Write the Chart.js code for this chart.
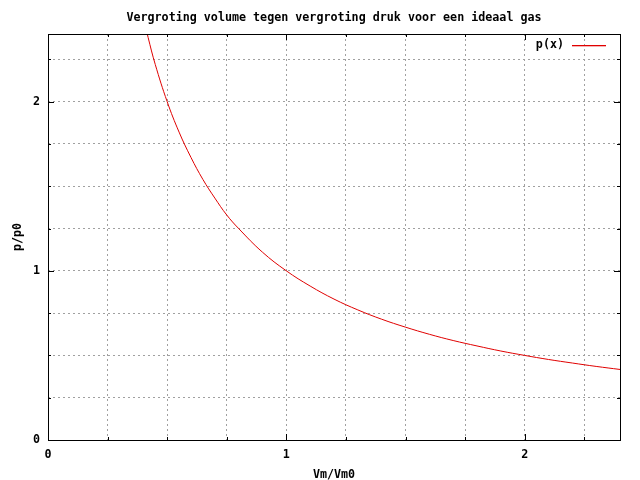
<!DOCTYPE html>
<html>
<head>
<meta charset="utf-8">
<script src="https://cdn.jsdelivr.net/npm/chart.js@4.4.1/dist/chart.umd.min.js"></script>
<style>
  html, body { margin: 0; padding: 0; background: #fff; }
  #wrap { width: 640px; height: 480px; }
</style>
</head>
<body>
<div id="wrap"><canvas id="chart" width="640" height="480"></canvas></div>
<script>
// values (p/p0 against Vm/Vm0)
const volumeRatio = [0.40, 0.42, 0.45, 0.50, 0.55, 0.60, 0.65, 0.70, 0.75, 0.80, 0.90, 1.00, 1.10, 1.20, 1.30, 1.40, 1.50, 1.60, 1.70, 1.80, 1.90, 2.00, 2.10, 2.20, 2.30, 2.40];
const pressureRatio = [2.50, 2.38, 2.22, 2.00, 1.82, 1.67, 1.54, 1.43, 1.33, 1.25, 1.11, 1.00, 0.91, 0.833, 0.769, 0.714, 0.667, 0.625, 0.588, 0.556, 0.526, 0.50, 0.476, 0.455, 0.435, 0.417];
const tickLabels = ["0", "1", "2"];
const seriesName = "p(x)";
const chartTitle = "Vergroting volume tegen vergroting druk voor een ideaal gas";

const FONT = "'DejaVu Sans Mono', 'Liberation Mono', monospace";
const FSIZE = 11.7;
const lineColor = "#e00000";
const gridColor = "#a0a0a0";

const points = volumeRatio.map((x, i) => ({ x: x, y: pressureRatio[i] }));

function labelFor(v) {
  const s = String(Math.round(v));
  return Math.abs(v - Math.round(v)) < 1e-6 && tickLabels.includes(s) ? s : "";
}

function quarterTicks(s) {
  const t = [];
  for (let v = 0; v <= 2.4001; v += 0.25) t.push({ value: v });
  s.ticks = t;
}

// gnuplot-style inward ticks on all four sides, title over the plot, legend entry
const gnuplotExtras = {
  id: "gnuplotExtras",
  afterDatasetsDraw(chart) {
    const { ctx, chartArea: a, scales } = chart;
    ctx.save();
    ctx.setLineDash([]);
    ctx.strokeStyle = "#000";
    ctx.lineWidth = 1;
    ctx.beginPath();
    for (let v = 0; v <= 2.4001; v += 0.25) {
      const major = Math.abs(v - Math.round(v)) < 1e-6;
      const len = major ? 6 : 3;
      const px = Math.round(scales.x.getPixelForValue(v)) + 0.5;
      ctx.moveTo(px, a.bottom); ctx.lineTo(px, a.bottom - len);
      ctx.moveTo(px, a.top); ctx.lineTo(px, a.top + len);
      const py = Math.round(scales.y.getPixelForValue(v)) + 0.5;
      ctx.moveTo(a.left, py); ctx.lineTo(a.left + len, py);
      ctx.moveTo(a.right, py); ctx.lineTo(a.right - len, py);
    }
    ctx.stroke();
    ctx.strokeRect(Math.round(a.left) + 0.5, Math.round(a.top) + 0.5,
      Math.round(a.right - a.left), Math.round(a.bottom - a.top));

    ctx.font = "bold " + FSIZE + "px " + FONT;
    ctx.fillStyle = "#000";
    ctx.textBaseline = "middle";

    // title
    ctx.textAlign = "center";
    ctx.fillText(chartTitle, (a.left + a.right) / 2, 18);

    // legend
    ctx.textAlign = "right";
    ctx.fillText(chart.data.datasets[0].label, a.right - 56, a.top + 11);
    ctx.fillStyle = lineColor;
    ctx.fillRect(Math.round(a.right) - 48, Math.round(a.top) + 11, 34, 1.3);
    ctx.restore();
  }
};

new Chart(document.getElementById("chart"), {
  type: "scatter",
  data: {
    datasets: [{
      label: seriesName,
      data: points,
      showLine: true,
      borderColor: lineColor,
      borderWidth: 1,
      pointRadius: 0,
      tension: 0.4,
      fill: false
    }]
  },
  options: {
    responsive: false,
    animation: false,
    events: [],
    layout: { padding: { left: 0, right: 20, top: 34, bottom: 0 } },
    plugins: {
      legend: { display: false },
      tooltip: { enabled: false },
      title: { display: false }
    },
    scales: {
      x: {
        type: "linear",
        min: 0,
        max: 2.4,
        afterFit(s) { s.height = 40; },
        afterBuildTicks: quarterTicks,
        grid: { color: gridColor, lineWidth: 1, drawTicks: false },
        border: { display: false, dash: [2, 3] },
        ticks: {
          color: "#000",
          font: { family: FONT, size: FSIZE, weight: "bold" },
          padding: 8,
          maxRotation: 0,
          autoSkip: false,
          callback: v => labelFor(v)
        },
        title: {
          display: true,
          text: "Vm/Vm0",
          color: "#000",
          font: { family: FONT, size: FSIZE, weight: "bold" },
          padding: { top: 10, bottom: -1.5 }
        }
      },
      y: {
        type: "linear",
        min: 0,
        max: 2.4,
        afterFit(s) { s.width = 48; },
        afterBuildTicks: quarterTicks,
        grid: { color: gridColor, lineWidth: 1, drawTicks: false },
        border: { display: false, dash: [2, 3] },
        ticks: {
          color: "#000",
          font: { family: FONT, size: FSIZE, weight: "bold" },
          padding: 8,
          autoSkip: false,
          callback: v => labelFor(v)
        },
        title: {
          display: true,
          text: "p/p0",
          color: "#000",
          font: { family: FONT, size: FSIZE, weight: "bold" },
          padding: { top: 11, bottom: 0 }
        }
      }
    }
  },
  plugins: [gnuplotExtras]
});
</script>
</body>
</html>
